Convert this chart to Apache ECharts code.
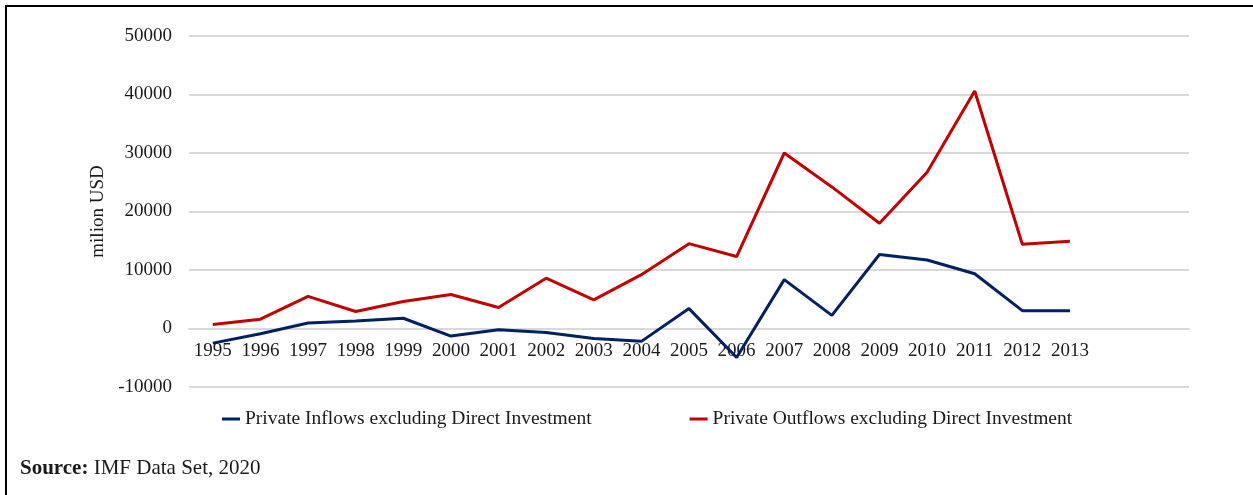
<!DOCTYPE html>
<html>
<head>
<meta charset="utf-8">
<script src="https://cdn.jsdelivr.net/npm/echarts@6/dist/echarts.min.js"></script>
<style>
  html, body { margin: 0; padding: 0; background: #fff; }
  #frame { position: absolute; left: 5px; top: 5px; width: 1248px; height: 490px;
           border-left: 2px solid #000; border-top: 2px solid #000; }
  #chart { position: absolute; left: 0; top: 0; width: 1253px; height: 495px; }
</style>
</head>
<body>
<div id="frame"></div>
<div id="chart"></div>
<script>
const categories = ['1995','1996','1997','1998','1999','2000','2001','2002','2003','2004',
  '2005','2006','2007','2008','2009','2010','2011','2012','2013','',' '];
const inflows = [-2500, -900, 950, 1300, 1750, -1300, -200, -700, -1700, -2200,
  3400, -4950, 8350, 2250, 12650, 11700, 9350, 3050, 3050, null, null];
const outflows = [700, 1600, 5500, 2900, 4600, 5800, 3600, 8600, 4900, 9200,
  14500, 12300, 30000, 24200, 18000, 26700, 40600, 14400, 14900, null, null];
const yTicks = { min: -10000, max: 50000, interval: 10000 };
const seriesNames = ['Private Inflows excluding Direct Investment', 'Private Outflows excluding Direct Investment'];

const FONT = '"Liberation Serif", "DejaVu Serif", serif';
const GRID = { left: 189, right: 64, top: 36, bottom: 108 };
const plotH = 495 - GRID.top - GRID.bottom;
// shift the category axis from the bottom edge up to the zero line
const zeroOffset = -plotH * (0 - yTicks.min) / (yTicks.max - yTicks.min);

const chart = echarts.init(document.getElementById('chart'));
chart.setOption({
  animation: false,
  backgroundColor: 'transparent',
  textStyle: { fontFamily: FONT },
  grid: Object.assign({ containLabel: false }, GRID),
  legend: {
    left: 222, top: 409, padding: 0,
    icon: 'rect', itemWidth: 18, itemHeight: 3, itemGap: 98,
    textStyle: { fontFamily: FONT, fontSize: 19.5, color: '#1a1a1a' },
    data: seriesNames
  },
  xAxis: {
    type: 'category',
    data: categories,
    boundaryGap: true,
    offset: zeroOffset,
    axisLine: { onZero: false, lineStyle: { color: '#d9d9d9', width: 2 } },
    axisTick: { show: false },
    axisLabel: { fontFamily: FONT, fontSize: 19, color: '#1a1a1a', margin: 13, interval: 0 }
  },
  yAxis: {
    type: 'value',
    min: yTicks.min, max: yTicks.max, interval: yTicks.interval,
    name: 'milion USD', nameLocation: 'middle', nameGap: 74,
    nameTextStyle: { fontFamily: FONT, fontSize: 19, color: '#1a1a1a' },
    axisLine: { show: false },
    axisTick: { show: false },
    axisLabel: { fontFamily: FONT, fontSize: 19, color: '#1a1a1a', margin: 17,
                 formatter: function (v) { return String(v); } },
    splitLine: { lineStyle: { color: '#d9d9d9', width: 2 } }
  },
  series: [
    { name: seriesNames[0], type: 'line', data: inflows, showSymbol: false, symbol: 'none',
      itemStyle: { color: '#002060' }, lineStyle: { color: '#002060', width: 3 } },
    { name: seriesNames[1], type: 'line', data: outflows, showSymbol: false, symbol: 'none',
      itemStyle: { color: '#C00000' }, lineStyle: { color: '#C00000', width: 3 } }
  ],
  graphic: [{
    type: 'text', left: 20, top: 458,
    style: {
      text: '{b|Source:}{n| IMF Data Set, 2020}',
      font: '21px ' + FONT, fill: '#1a1a1a',
      rich: {
        b: { fontWeight: 'bold', fontFamily: FONT, fontSize: 21, fill: '#1a1a1a' },
        n: { fontFamily: FONT, fontSize: 21, fill: '#1a1a1a' }
      }
    }
  }]
});
</script>
</body>
</html>
